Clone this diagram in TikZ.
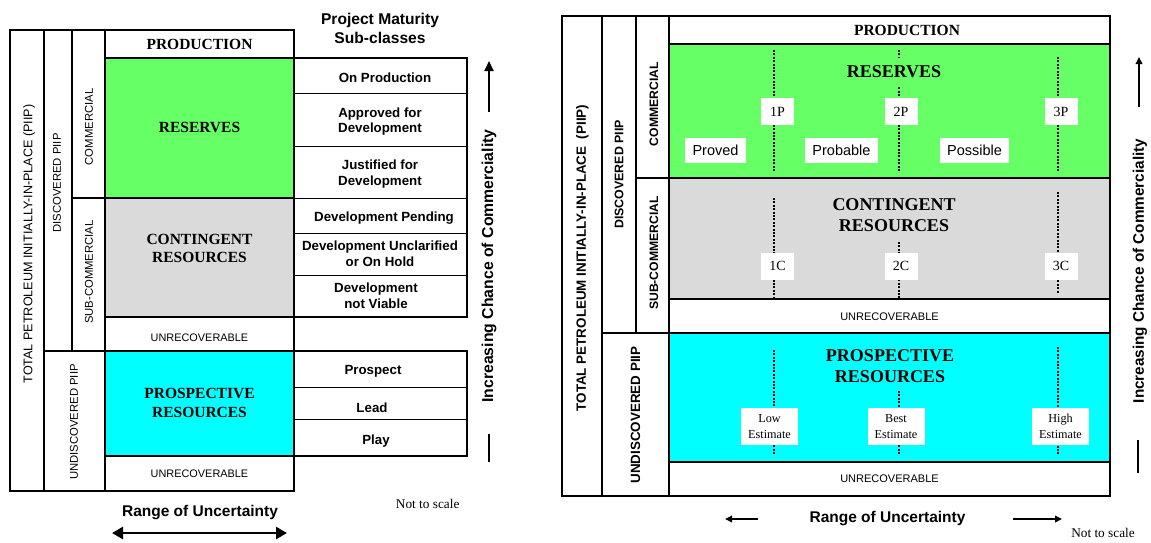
\documentclass[tikz,border=0pt]{standalone}
\usepackage{xcolor}
\usepackage{fontspec}
\setmainfont{Liberation Serif}
\setsansfont{Liberation Sans}
\usetikzlibrary{arrows.meta}
\definecolor{resgreen}{RGB}{102,255,102}
\definecolor{congray}{RGB}{218,218,218}
\definecolor{procyan}{RGB}{0,255,255}

\begin{document}
\begin{tikzpicture}[x=1pt,y=-1pt,
		thk/.style={line width=2pt},
		thn/.style={line width=1pt},
		dotline/.style={line width=2.2pt,dash pattern=on 2pt off 1.4pt},
		ttl/.style={font=\bfseries\fontsize{15.5}{18.7}\selectfont,align=center,inner sep=1pt},
		bigttl/.style={font=\bfseries\fontsize{18}{21}\selectfont,align=center,inner xsep=2pt,inner ysep=8pt},
		arial/.style={font=\sffamily\fontsize{#1}{15.7}\selectfont,align=center,inner sep=1pt},
		arialb/.style={font=\sffamily\bfseries\fontsize{#1}{15.7}\selectfont,align=center,inner sep=1pt},
		pbox/.style={fill=white,font=\fontsize{14}{14}\selectfont,minimum width=33pt,minimum height=27pt,inner sep=0pt},
		ebox/.style={fill=white,font=\fontsize{12.2}{15.7}\selectfont,align=center,minimum width=57pt,minimum height=37pt,inner sep=0pt},
		wbox/.style={fill=white,font=\sffamily\fontsize{14.5}{14.5}\selectfont,minimum height=25pt,inner xsep=7.5pt,inner ysep=0pt},
		smallhead/.style={line width=2pt,-{Triangle[length=7pt,width=6.5pt]}}]
	\useasboundingbox (0,0) rectangle (1151,542);
	\draw[thk] (10,30) rectangle (44,491);
	\draw[thk] (44,30) rectangle (72,351);
	\draw[thk] (72,30) rectangle (105,198);
	\draw[thk] (72,198) rectangle (105,351);
	\draw[thk] (44,351) rectangle (105,491);
	\draw[thk] (105,30) rectangle (294,58);
	\draw[thk,fill=resgreen] (105,58) rectangle (294,198);
	\draw[thk,fill=congray] (105,198) rectangle (294,317);
	\draw[thk] (105,317) rectangle (294,351);
	\draw[thk,fill=procyan] (105,351) rectangle (294,456);
	\draw[thk] (105,456) rectangle (294,491);
	\foreach \y in {93,146,198,233,275,387,419} \draw[thn] (294,\y) -- (467,\y);
	\draw[thk] (294,58) rectangle (467,317);
	\draw[thk] (294,351) rectangle (467,456);
	\node[arial=12.6,rotate=90] (totL) at (29,244) {TOTAL PETROLEUM INITIALLY-IN-PLACE (PIIP)};
	\node[arial=11.3,rotate=90] (discL) at (57,183) {DISCOVERED PIIP};
	\node[arial=11.3,rotate=90] (comL) at (89,127) {COMMERCIAL};
	\node[arial=11.3,rotate=90] (subL) at (89,272) {SUB-COMMERCIAL};
	\node[arial=11.3,rotate=90] (undL) at (74,422) {UNDISCOVERED PIIP};
	\node[ttl] (prodL) at (199.5,44) {PRODUCTION};
	\node[ttl] (resL) at (199.5,127) {RESERVES};
	\node[ttl] (conL) at (199.5,248.5) {CONTINGENT\\RESOURCES};
	\node[arial=10.9] (unrL) at (199.5,338) {UNRECOVERABLE};
	\node[ttl] (proL) at (199.5,403) {PROSPECTIVE\\RESOURCES};
	\node[arial=10.9] (unrbL) at (199.5,473.5) {UNRECOVERABLE};
	\node[font=\sffamily\bfseries\fontsize{15.6}{19}\selectfont,align=center] (pmsc) at (380,28) {Project Maturity\\Sub-classes};
	\node[arialb=13.3] (onprod) at (385,78) {On Production};
	\node[arialb=13.3] (approved) at (380,121.5) {Approved for\\Development};
	\node[arialb=13.3] (justified) at (380,174.3) {Justified for\\Development};
	\node[arialb=13.3] (devpend) at (384,218) {Development Pending};
	\node[arialb=13.3] (devuncl) at (380,254) {Development Unclarified\\or On Hold};
	\node[arialb=13.3] (devnv) at (376,296) {Development\\not Viable};
	\node[arialb=13.3] (prospect) at (373,371.7) {Prospect};
	\node[arialb=13.3] (lead) at (372,408) {Lead};
	\node[arialb=13.3] (play) at (376,440.7) {Play};
	\coordinate (icLa) at (489,112);
	\coordinate (icLb) at (489,61);
	\draw[line width=2pt,-{Triangle[length=10pt,width=9pt]}] (icLa) -- (icLb);
	\node[arialb=15.8,rotate=90] (icL) at (489,266) {Increasing Chance of Commerciality};
	\coordinate (barLa) at (489,434);
	\coordinate (barLb) at (489,461.5);
	\draw[line width=2pt] (barLa) -- (barLb);
	\node[arialb=15.5] (rouL) at (200,512.7) {Range of Uncertainty};
	\coordinate (rouLa) at (112,533);
	\coordinate (rouLb) at (287,533);
	\draw[line width=2.6pt,{Triangle[length=11pt,width=12pt]}-{Triangle[length=11pt,width=12pt]}] (rouLa) -- (rouLb);
	\node[font=\fontsize{13.3}{15}\selectfont] (ntsL) at (427.7,504.3) {Not to scale};
	\draw[thk] (562,16) rectangle (602,496);
	\draw[thk] (602,16) rectangle (636,333);
	\draw[thk] (636,16) rectangle (669,178);
	\draw[thk] (636,178) rectangle (669,333);
	\draw[thk] (602,333) rectangle (669,496);
	\draw[thk] (669,16) rectangle (1110,44);
	\draw[thk,fill=resgreen] (669,44) rectangle (1110,178);
	\draw[thk,fill=congray] (669,178) rectangle (1110,299);
	\draw[thk] (669,299) rectangle (1110,333);
	\draw[thk,fill=procyan] (669,333) rectangle (1110,462);
	\draw[thk] (669,462) rectangle (1110,496);
	\foreach \x/\a/\b in {774/50/172,899/50/172,1058/57/172,774/198/298,899/242/298,1058/192/293,774/350/455,899/391/455,1058/347/455}
		\draw[dotline] (\x,\a) -- (\x,\b);
	\node[arialb=13.4,rotate=90] (totR) at (582.5,258) {TOTAL PETROLEUM INITIALLY-IN-PLACE\ \ (PIIP)};
	\node[arialb=12.4,rotate=90] (discR) at (619,174.5) {DISCOVERED PIIP};
	\node[arialb=12.2,rotate=90] (comR) at (654,104) {COMMERCIAL};
	\node[arialb=12.2,rotate=90] (subR) at (654,253) {SUB-COMMERCIAL};
	\node[arialb=13.4,rotate=90] (undR) at (635.5,415) {UNDISCOVERED PIIP};
	\node[ttl] (prodR) at (907,30.5) {PRODUCTION};
	\node[bigttl,fill=resgreen] (resR) at (894,72) {RESERVES};
	\node[bigttl,fill=congray] (conR) at (894,215) {CONTINGENT\\RESOURCES};
	\node[arial=11] (unrR) at (889.5,317) {UNRECOVERABLE};
	\node[bigttl,fill=procyan] (proR) at (890,366.5) {PROSPECTIVE\\RESOURCES};
	\node[arial=11] (unrbR) at (889.5,479) {UNRECOVERABLE};
	\node[pbox] (p1) at (777.5,111.5) {1P};
	\node[pbox] (p2) at (901,111.5) {2P};
	\node[pbox] (p3) at (1061,111.5) {3P};
	\node[wbox] (proved) at (715.5,150.5) {Proved};
	\node[wbox] (probable) at (841.5,150.5) {Probable};
	\node[wbox] (possible) at (974.5,150.5) {Possible};
	\node[pbox] (c1) at (777.5,266) {1C};
	\node[pbox] (c2) at (901,266) {2C};
	\node[pbox] (c3) at (1061,266) {3C};
	\node[ebox] (lowE) at (769.5,426.5) {Low\\Estimate};
	\node[ebox] (bestE) at (896,426.5) {Best\\Estimate};
	\node[ebox] (highE) at (1060.5,426.5) {High\\Estimate};
	\coordinate (icRa) at (1139,107);
	\coordinate (icRb) at (1139,57);
	\draw[smallhead] (icRa) -- (icRb);
	\node[arialb=15.3,rotate=90] (icR) at (1140,271) {Increasing Chance of Commerciality};
	\coordinate (barRa) at (1138,440);
	\coordinate (barRb) at (1138,473);
	\draw[line width=2pt] (barRa) -- (barRb);
	\node[arialb=15.5] (rouR) at (887.5,519) {Range of Uncertainty};
	\coordinate (rouRa) at (758,519);
	\coordinate (rouRb) at (725,519);
	\coordinate (rouRc) at (1013,519);
	\coordinate (rouRd) at (1062,519);
	\draw[smallhead] (rouRa) -- (rouRb);
	\draw[smallhead] (rouRc) -- (rouRd);
	\node[font=\fontsize{13.3}{15}\selectfont] (ntsR) at (1103,533) {Not to scale};
\end{tikzpicture}
\end{document}
